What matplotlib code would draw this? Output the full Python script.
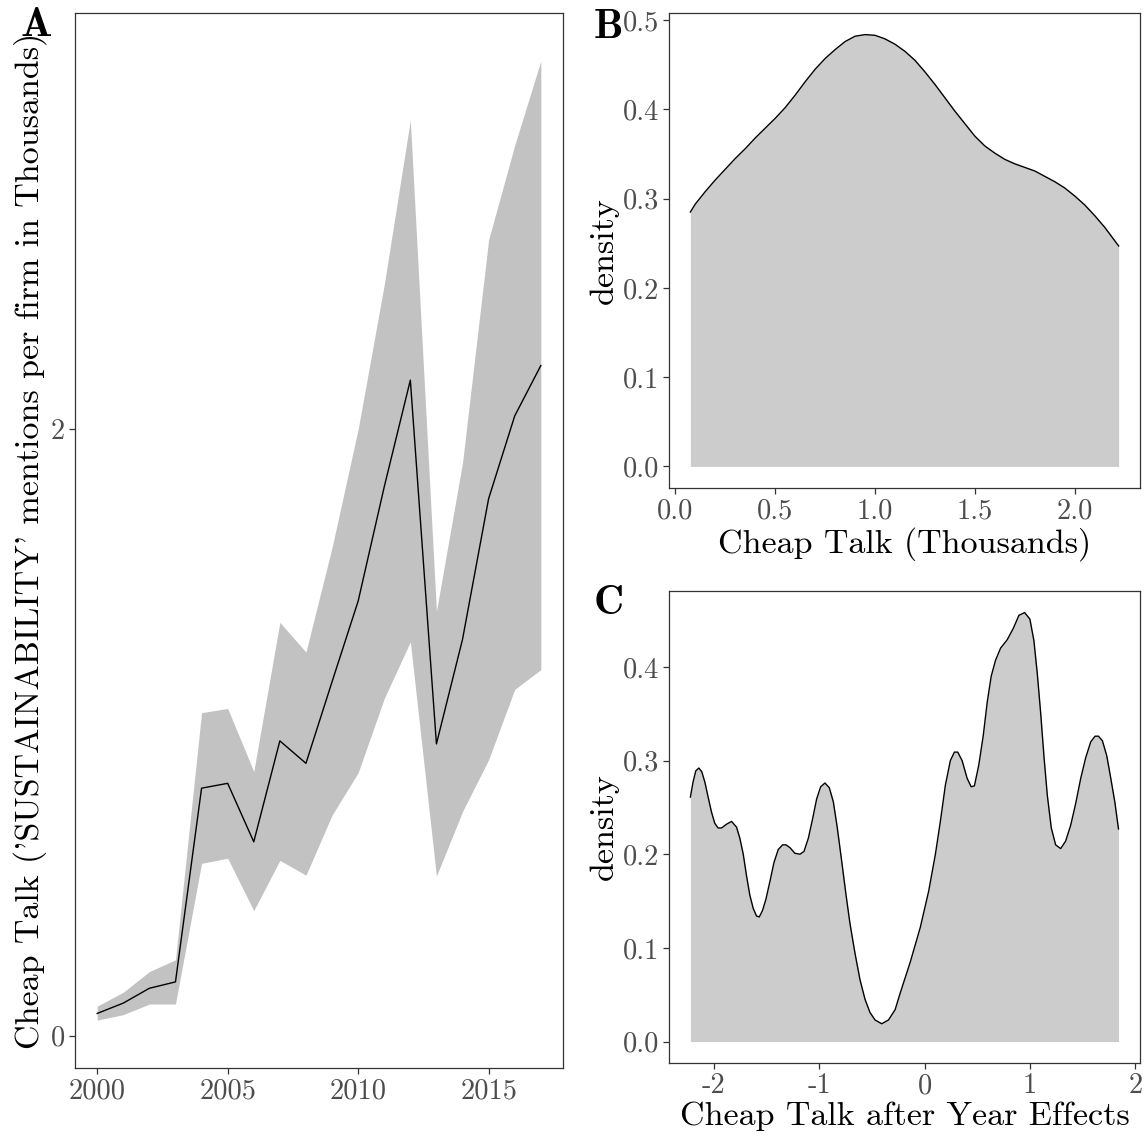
import numpy as np
import matplotlib
matplotlib.use("Agg")
import matplotlib.pyplot as plt

plt.rcParams['font.family'] = ['cmr10', 'DejaVu Serif']
plt.rcParams['axes.unicode_minus'] = False
plt.rcParams['axes.formatter.use_mathtext'] = True

# ---- Panel A data: yearly mean with band ----
years = [2000, 2001, 2002, 2003, 2004, 2005, 2006, 2007, 2008,
         2009, 2010, 2011, 2012, 2013, 2014, 2015, 2016, 2017]
mean_talk = [0.073, 0.107, 0.156, 0.177, 0.816, 0.832, 0.639, 0.972, 0.898,
             1.167, 1.433, 1.81, 2.162, 0.962, 1.307, 1.771, 2.044, 2.21]
upper_talk = [0.097, 0.143, 0.211, 0.250, 1.065, 1.079, 0.871, 1.363, 1.265,
              1.61, 2.0, 2.477, 3.02, 1.40, 1.89, 2.625, 2.937, 3.215]
lower_talk = [0.051, 0.069, 0.104, 0.104, 0.568, 0.585, 0.412, 0.578, 0.529,
              0.727, 0.867, 1.112, 1.299, 0.526, 0.739, 0.910, 1.142, 1.207]
a_xticks = [2000, 2005, 2010, 2015]
a_xticklabels = ['2000', '2005', '2010', '2015']
a_yticks = [0, 2]
a_yticklabels = ['0', '2']

# ---- Panel B data: density of cheap talk (thousands) ----
b_x = [0.075, 0.1, 0.15, 0.2, 0.25, 0.3, 0.35, 0.4, 0.45, 0.5, 0.55, 0.6,
       0.65, 0.7, 0.75, 0.8, 0.85, 0.9, 0.95, 1.0, 1.05, 1.1, 1.15, 1.2,
       1.25, 1.3, 1.35, 1.4, 1.45, 1.5, 1.55, 1.6, 1.65, 1.7, 1.75, 1.8,
       1.85, 1.9, 1.95, 2.0, 2.05, 2.1, 2.15, 2.22]
b_density = [0.285, 0.294, 0.308, 0.321, 0.333, 0.345, 0.356, 0.368, 0.379,
             0.390, 0.402, 0.416, 0.431, 0.445, 0.457, 0.467, 0.476, 0.482,
             0.4838, 0.483, 0.479, 0.473, 0.465, 0.455, 0.442, 0.428, 0.413,
             0.398, 0.384, 0.370, 0.359, 0.351, 0.344, 0.339, 0.335, 0.331,
             0.325, 0.319, 0.312, 0.303, 0.293, 0.281, 0.268, 0.247]
b_xticks = [0.0, 0.5, 1.0, 1.5, 2.0]
b_xticklabels = ['0.0', '0.5', '1.0', '1.5', '2.0']
b_yticks = [0.0, 0.1, 0.2, 0.3, 0.4, 0.5]
b_yticklabels = ['0.0', '0.1', '0.2', '0.3', '0.4', '0.5']

# ---- Panel C data: density after year effects ----
c_x = [-2.220, -2.195, -2.169, -2.140, -2.112, -2.083, -2.052, -2.020,
       -1.989, -1.957, -1.925, -1.878, -1.830, -1.783, -1.751, -1.719,
       -1.688, -1.656, -1.624, -1.593, -1.567, -1.536, -1.504, -1.466,
       -1.428, -1.387, -1.346, -1.314, -1.276, -1.229, -1.181, -1.143,
       -1.102, -1.061, -1.023, -0.985, -0.944, -0.903, -0.865, -0.827,
       -0.786, -0.745, -0.707, -0.659, -0.612, -0.564, -0.517, -0.469,
       -0.406, -0.342, -0.279, -0.230, -0.135, -0.040, 0.040, 0.103,
       0.150, 0.198, 0.245, 0.283, 0.315, 0.356, 0.404, 0.442, 0.473,
       0.514, 0.556, 0.594, 0.632, 0.673, 0.721, 0.784, 0.841, 0.895,
       0.949, 0.999, 1.037, 1.069, 1.101, 1.132, 1.164, 1.202, 1.243,
       1.291, 1.338, 1.386, 1.433, 1.481, 1.528, 1.576, 1.617, 1.649,
       1.687, 1.728, 1.766, 1.804, 1.839]
c_density = [0.261, 0.277, 0.289, 0.292, 0.288, 0.277, 0.261, 0.245,
             0.233, 0.228, 0.228, 0.232, 0.235, 0.229, 0.217, 0.200,
             0.177, 0.156, 0.142, 0.134, 0.133, 0.140, 0.152, 0.171,
             0.191, 0.205, 0.210, 0.210, 0.207, 0.201, 0.200, 0.203,
             0.217, 0.238, 0.259, 0.272, 0.276, 0.271, 0.256, 0.228,
             0.193, 0.157, 0.126, 0.094, 0.066, 0.045, 0.031, 0.023,
             0.019, 0.023, 0.034, 0.052, 0.085, 0.122, 0.161, 0.200,
             0.235, 0.274, 0.300, 0.309, 0.309, 0.300, 0.281, 0.272, 0.273,
             0.295, 0.326, 0.362, 0.390, 0.407, 0.420, 0.429, 0.441, 0.455,
             0.458, 0.451, 0.428, 0.393, 0.351, 0.305, 0.263, 0.228, 0.210,
             0.206, 0.214, 0.231, 0.254, 0.281, 0.303, 0.320, 0.326, 0.326,
             0.321, 0.305, 0.281, 0.256, 0.227]
c_xticks = [-2, -1, 0, 1, 2]
c_xticklabels = ['-2', '-1', '0', '1', '2']
c_yticks = [0.0, 0.1, 0.2, 0.3, 0.4]
c_yticklabels = ['0.0', '0.1', '0.2', '0.3', '0.4']

W, H = 1146, 1141
fig = plt.figure(figsize=(W / 100, H / 100), dpi=100)

def box(l, t, r, b):
    return [l / W, 1 - b / H, (r - l) / W, (b - t) / H]

axA = fig.add_axes(box(75, 13, 563, 1068))
axB = fig.add_axes(box(669, 13, 1140, 488))
axC = fig.add_axes(box(669, 591, 1140, 1063))

TICK = 20.5
TITLE = 24.5
spine_col = '#333333'
tick_col = '#4D4D4D'

def style(ax):
    for s in ax.spines.values():
        s.set_color(spine_col)
        s.set_linewidth(0.9)
    ax.tick_params(colors=spine_col, labelcolor=tick_col, labelsize=TICK,
                   length=4.5, width=0.9, direction='out', pad=2.5)

# Panel A
axA.fill_between(years, lower_talk, upper_talk, color='#C2C2C2', linewidth=0)
axA.plot(years, mean_talk, color='black', linewidth=1.0)
axA.set_xlim(1999.15, 2017.85)
axA.set_ylim(-0.107, 3.373)
axA.set_xticks(a_xticks)
axA.set_xticklabels(a_xticklabels)
axA.set_yticks(a_yticks)
axA.set_yticklabels(a_yticklabels)
axA.set_ylabel("Cheap Talk ('SUSTAINABILITY' mentions per firm in Thousands)",
               fontsize=TITLE, labelpad=3)
style(axA)

# Panel B
axB.fill_between(b_x, 0, b_density, color='#CCCCCC', linewidth=0)
axB.plot(b_x, b_density, color='black', linewidth=1.0)
axB.set_xlim(-0.032, 2.327)
axB.set_ylim(-0.0242, 0.508)
axB.set_xticks(b_xticks)
axB.set_xticklabels(b_xticklabels)
axB.set_yticks(b_yticks)
axB.set_yticklabels(b_yticklabels)
axB.set_xlabel('Cheap Talk (Thousands)', fontsize=TITLE, labelpad=2)
axB.set_ylabel('density', fontsize=TITLE, labelpad=3)
style(axB)

# Panel C
axC.fill_between(c_x, 0, c_density, color='#CCCCCC', linewidth=0)
axC.plot(c_x, c_density, color='black', linewidth=1.0)
axC.set_xlim(-2.423, 2.043)
axC.set_ylim(-0.0229, 0.481)
axC.set_xticks(c_xticks)
axC.set_xticklabels(c_xticklabels)
axC.set_yticks(c_yticks)
axC.set_yticklabels(c_yticklabels)
axC.set_xlabel('Cheap Talk after Year Effects', fontsize=TITLE, labelpad=2)
axC.set_ylabel('density', fontsize=TITLE, labelpad=3)
style(axC)

# Panel letters
for lab, (px, py) in {'A': (21, 36), 'B': (594, 38), 'C': (594, 614)}.items():
    fig.text(px / W, 1 - py / H, lab, family=['cmb10', 'DejaVu Serif'],
             fontsize=30, ha='left', va='baseline')

fig.savefig('out.png', dpi=100)
